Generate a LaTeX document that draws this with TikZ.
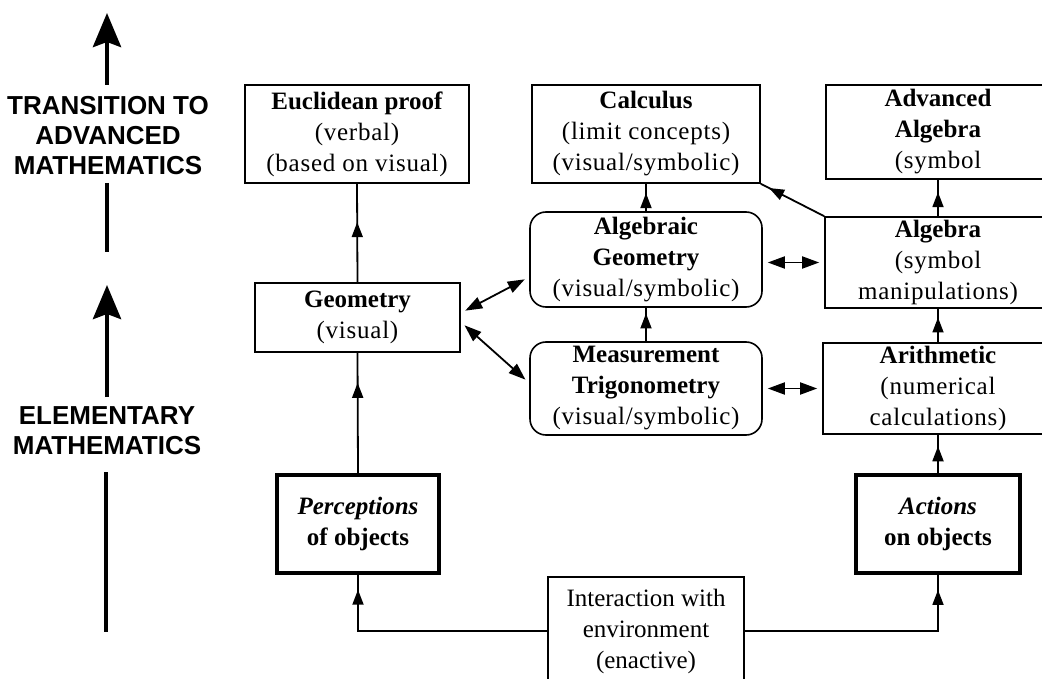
\documentclass[tikz,border=0pt]{standalone}
\usepackage{fontspec}
\setmainfont{Liberation Serif}
\newfontfamily\levelfont{Liberation Sans}
\newfontfamily\spacedfont[LetterSpace=3]{Liberation Serif}
\usetikzlibrary{positioning, calc, arrows.meta, decorations.markings}
\newcommand{\rmnote}[1]{{\spacedfont #1}}

\tikzset{
  box/.style={draw, line width=1.6pt, align=center, inner sep=0pt, font=\fontsize{25}{31}\selectfont},
  roundbox/.style={box, rounded corners=16pt},
  thickbox/.style={box, line width=4pt},
  link/.style={line width=1.8pt},
  midarrow/.style={link, postaction={decorate}, decoration={markings, mark=at position #1 with {\arrow{Triangle[length=15pt,width=11pt]}}}},
  twoway/.style={link, {Triangle[length=17pt,width=12pt]}-{Triangle[length=17pt,width=12pt]}, shorten <=5pt, shorten >=5pt},
  levelarrow/.style={line width=4.5pt, -{Stealth[length=34pt,width=28pt,inset=5pt]}},
  levelline/.style={line width=4.5pt},
  level/.style={font=\levelfont\bfseries\fontsize{26}{30}\selectfont, align=center, inner sep=0pt},
}

\begin{document}
\begin{tikzpicture}[x=1pt, y=-1pt]
  \useasboundingbox (0,0) rectangle (1042,679);
  \clip (0,0) rectangle (1042,679);

  % levels on the left
  \node[level] (transition) at (108,136) {TRANSITION TO\\ADVANCED\\MATHEMATICS};
  \node[level] (elementary) at (107,431) {ELEMENTARY\\MATHEMATICS};
  \coordinate (advtop) at (107,13);
  \coordinate (advfoot) at (107,85);
  \coordinate (advlow) at (107,183);
  \coordinate (advlowend) at (107,252);
  \coordinate (elemtop) at (107,285);
  \coordinate (elemfoot) at (107,397);
  \coordinate (elemlow) at (106,472);
  \coordinate (elemlowend) at (106,632);
  \draw[levelarrow] (advfoot) -- (advtop);
  \draw[levelline] (advlow) -- (advlowend);
  \draw[levelarrow] (elemfoot) -- (elemtop);
  \draw[levelline] (elemlow) -- (elemlowend);

  % boxes
  \node[box, minimum width=224pt, minimum height=98pt] (euclid) at (357,134)
    {\textbf{Euclidean proof}\\\rmnote{(verbal)}\\\rmnote{(based on visual)}};
  \node[box, minimum width=228pt, minimum height=98pt] (calculus) at (646,134)
    {\textbf{Calculus}\\\rmnote{(limit concepts)}\\\rmnote{(visual/symbolic)}};
  \node[box, minimum width=224pt, minimum height=94pt] (advalgebra) at (938,132)
    {\textbf{Advanced}\\\textbf{Algebra}\\\rmnote{(symbol}};
  \node[roundbox, minimum width=232pt, minimum height=95pt] (alggeom) at (646,259.5)
    {\textbf{Algebraic}\\\textbf{Geometry}\\\rmnote{(visual/symbolic)}};
  \node[box, minimum width=226pt, minimum height=91pt] (algebra) at (938,262.5)
    {\textbf{Algebra}\\\rmnote{(symbol}\\\rmnote{manipulations)}};
  \node[box, minimum width=205pt, minimum height=69pt] (geometry) at (357.5,317.5)
    {\textbf{Geometry}\\\rmnote{(visual)}};
  \node[roundbox, minimum width=232pt, minimum height=93pt] (measure) at (646,388.5)
    {\textbf{Measurement}\\\textbf{Trigonometry}\\\rmnote{(visual/symbolic)}};
  \node[box, minimum width=230pt, minimum height=91pt] (arith) at (938,388.5)
    {\textbf{Arithmetic}\\\rmnote{(numerical}\\\rmnote{calculations)}};
  \node[thickbox, minimum width=162pt, minimum height=98pt] (percept) at (358,524)
    {\textbf{\textit{Perceptions}}\\\textbf{of objects}};
  \node[thickbox, minimum width=164pt, minimum height=98pt] (actions) at (938,524)
    {\textbf{\textit{Actions}}\\\textbf{on objects}};
  \node[box, minimum width=196pt, minimum height=108pt] (interact) at (646,631)
    {Interaction with\\environment\\(enactive)};

  % connectors
  \draw[midarrow=0.94] (interact.west) -| (percept.south);
  \draw[midarrow=0.94] (interact.east) -| (actions.south);
  \draw[midarrow=0.75] (percept.north) -- (geometry.south);
  \draw[midarrow=0.61] (geometry.north) -- (euclid.south);
  \draw[midarrow=0.7] (actions.north) -- (arith.south);
  \draw[midarrow=0.74] (arith.north) -- (algebra.south);
  \draw[midarrow=0.66] (algebra.north) -- (advalgebra.south);
  \draw[midarrow=0.83] (measure.north) -- (alggeom.south);
  \draw[midarrow=0.66] (alggeom.north) -- (calculus.south);
  \draw[midarrow=0.87] (algebra.north west) -- (calculus.south east);
  \draw[twoway] (algebra.west) -- (algebra.west -| alggeom.east);
  \draw[twoway] (arith.west) -- (arith.west -| measure.east);
  \draw[twoway] ([yshift=4.5pt]geometry.east) -- ([yshift=-17.5pt]alggeom.west);
  \draw[twoway] ([yshift=-4.5pt]geometry.east) -- ([yshift=5.5pt]measure.west);
\end{tikzpicture}
\end{document}
